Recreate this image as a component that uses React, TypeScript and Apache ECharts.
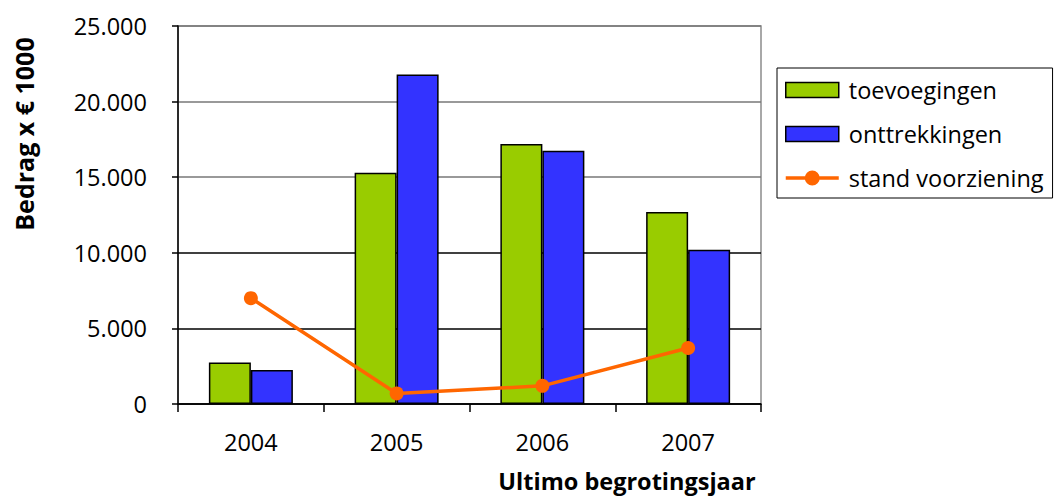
import React, { useEffect, useRef } from "react";
import * as echarts from "echarts";

const categories = ["2004", "2005", "2006", "2007"];
const toevoegingen = [2750, 15300, 17200, 12700];
const onttrekkingen = [2250, 21800, 16750, 10200];
const standVoorziening = [7000, 700, 1200, 3700];
const yTicks = [0, 5000, 10000, 15000, 20000, 25000];

const FONT = "Open Sans";

const LINE_ICON =
  "path://M0,5.75 L20,5.75 L20,9.25 L0,9.25 Z M33,5.75 L53,5.75 L53,9.25 L33,9.25 Z M19,7.5 A7.5,7.5 0 1 1 34,7.5 A7.5,7.5 0 1 1 19,7.5 Z";

export default function App() {
  const ref = useRef<HTMLDivElement>(null);
  useEffect(() => {
    const chart = echarts.init(ref.current!, null, { renderer: "svg" });
    chart.setOption({
      animation: false,
      backgroundColor: "#ffffff",
      textStyle: { fontFamily: FONT },
      grid: {
        left: 178,
        top: 26,
        width: 583,
        height: 378,
        show: true,
        borderColor: "#8c8c8c",
        borderWidth: 1.5,
        outerBoundsMode: "none",
        containLabel: false,
      },
      legend: {
        orient: "vertical",
        left: 777,
        top: 68,
        itemWidth: 53,
        itemHeight: 15,
        itemGap: 16,
        padding: [8, 9, 6, 8],
        borderColor: "#000",
        borderWidth: 1,
        textStyle: {
          fontSize: 23.5,
          lineHeight: 28,
          color: "#000",
          fontFamily: FONT,
          padding: [0, 0, 0, 5],
        },
        data: [
          { name: "toevoegingen", icon: "rect", itemStyle: { borderColor: "#000", borderWidth: 1.5 } },
          { name: "onttrekkingen", icon: "rect", itemStyle: { borderColor: "#000", borderWidth: 1.5 } },
          { name: "stand voorziening", icon: LINE_ICON, itemStyle: { color: "#ff6600", borderWidth: 0 } },
        ],
      },
      graphic: [
        {
          type: "text",
          x: 24,
          y: 134,
          rotation: Math.PI / 2,
          style: {
            text: "Bedrag x € 1000",
            fontFamily: FONT,
            fontSize: 25,
            fontWeight: "bold",
            fill: "#000",
            align: "center",
            verticalAlign: "middle",
          },
        },
        {
          type: "text",
          x: 627,
          y: 481,
          style: {
            text: "Ultimo begrotingsjaar",
            fontFamily: FONT,
            fontSize: 23.5,
            lineHeight: 24,
            fontWeight: "bold",
            fill: "#000",
            align: "center",
            verticalAlign: "middle",
          },
        },
      ],
      xAxis: {
        type: "category",
        data: categories,
        boundaryGap: true,
        axisLine: { lineStyle: { color: "#000", width: 1.5 } },
        axisTick: { show: true, length: 8, lineStyle: { color: "#000", width: 1.5 } },
        axisLabel: { fontSize: 23.5, color: "#000", margin: 26, fontFamily: FONT },
      },
      yAxis: {
        type: "value",
        min: yTicks[0],
        max: yTicks[yTicks.length - 1],
        interval: yTicks[1] - yTicks[0],
        axisLine: { show: true, lineStyle: { color: "#000", width: 1.5 } },
        axisTick: { show: true, length: 6, lineStyle: { color: "#000", width: 1.5 } },
        splitLine: {
          show: true,
          lineStyle: {
            color: ["#000", "#000", "#000", "#777", "#777", "#777"],
            width: 1.5,
          },
        },
        axisLabel: {
          fontSize: 23.5,
          color: "#000",
          margin: 31,
          fontFamily: FONT,
          formatter: (v: number) => (v === 0 ? "0" : (v / 1000).toFixed(0) + ".000"),
        },
      },
      series: [
        {
          name: "toevoegingen",
          type: "bar",
          data: toevoegingen,
          barWidth: 42,
          barGap: "0%",
          itemStyle: { color: "#99cc00", borderColor: "#000", borderWidth: 1.5 },
        },
        {
          name: "onttrekkingen",
          type: "bar",
          data: onttrekkingen,
          barWidth: 42,
          barGap: "0%",
          itemStyle: { color: "#3333ff", borderColor: "#000", borderWidth: 1.5 },
        },
        {
          name: "stand voorziening",
          type: "line",
          data: standVoorziening,
          symbol: "circle",
          symbolSize: 14,
          lineStyle: { color: "#ff6600", width: 3.5 },
          itemStyle: { color: "#ff6600" },
        },
      ],
    });
    return () => chart.dispose();
  }, []);
  return (
    <div
      ref={ref}
      style={{ position: "fixed", left: 0, top: 0, width: 1056, height: 496 }}
    />
  );
}
